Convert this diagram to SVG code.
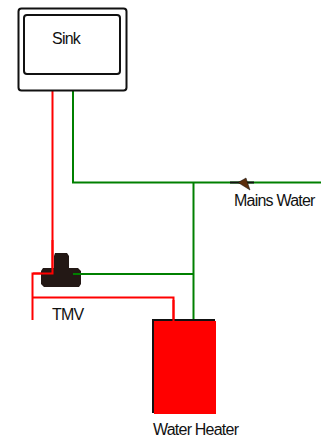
<svg xmlns="http://www.w3.org/2000/svg" width="321" height="439" viewBox="0 0 321 439">
<style>
.g{fill:none;stroke:#008000;stroke-width:2}
.r{fill:none;stroke:#ff0000;stroke-width:2}
.t{font-family:"Liberation Sans",Arial,sans-serif;font-size:16px;fill:#111;letter-spacing:-.78px}
</style>
<rect width="321" height="439" fill="#fff"/>
<g id="connectors">
<path class="r" d="M52.500 91V273.500H32.500V320"/>
<path class="r" d="M32.500 297.500H173.500V321"/>
<path class="g" d="M73 91V182.500H321"/>
<path class="g" d="M193.500 182.500V321"/>
<path class="g" d="M73 274H193.500"/>
</g>
<g id="sink">
<rect x="18.500" y="8.500" width="108" height="82" rx="3" fill="#fff" stroke="#111" stroke-width="2"/>
<rect x="24" y="15" width="96" height="59" rx="3" fill="#fff" stroke="#111" stroke-width="2"/>
<text class="t" x="52" y="44">Sink</text>
</g>
<g id="tmv">
<path d="M55 253H67L69 256V268H78L81 271V284L79 287H44L41 284V271L43 268H54V256Z" fill="#231815"/>
<path class="r" d="M52.500 240V273.500H33"/>
<path class="g" d="M73 274H125"/>
<text class="t" x="52" y="320">TMV</text>
</g>
<g id="valve">
<path d="M230 182.500H254" stroke="#111" stroke-width="2"/>
<path d="M238 182.500L246 178L250 190Z" fill="#5a2d0c" stroke="#111" stroke-width=".5"/>
<text class="t" x="234" y="206">Mains Water</text>
</g>
<g id="heater">
<path d="M153 413V320H215" fill="none" stroke="#111" stroke-width="2"/>
<rect x="154" y="321" width="62" height="93" fill="#ff0000"/>
<path class="r" d="M173.500 300V321"/>
<text class="t" x="153" y="435">Water Heater</text>
</g>
</svg>
